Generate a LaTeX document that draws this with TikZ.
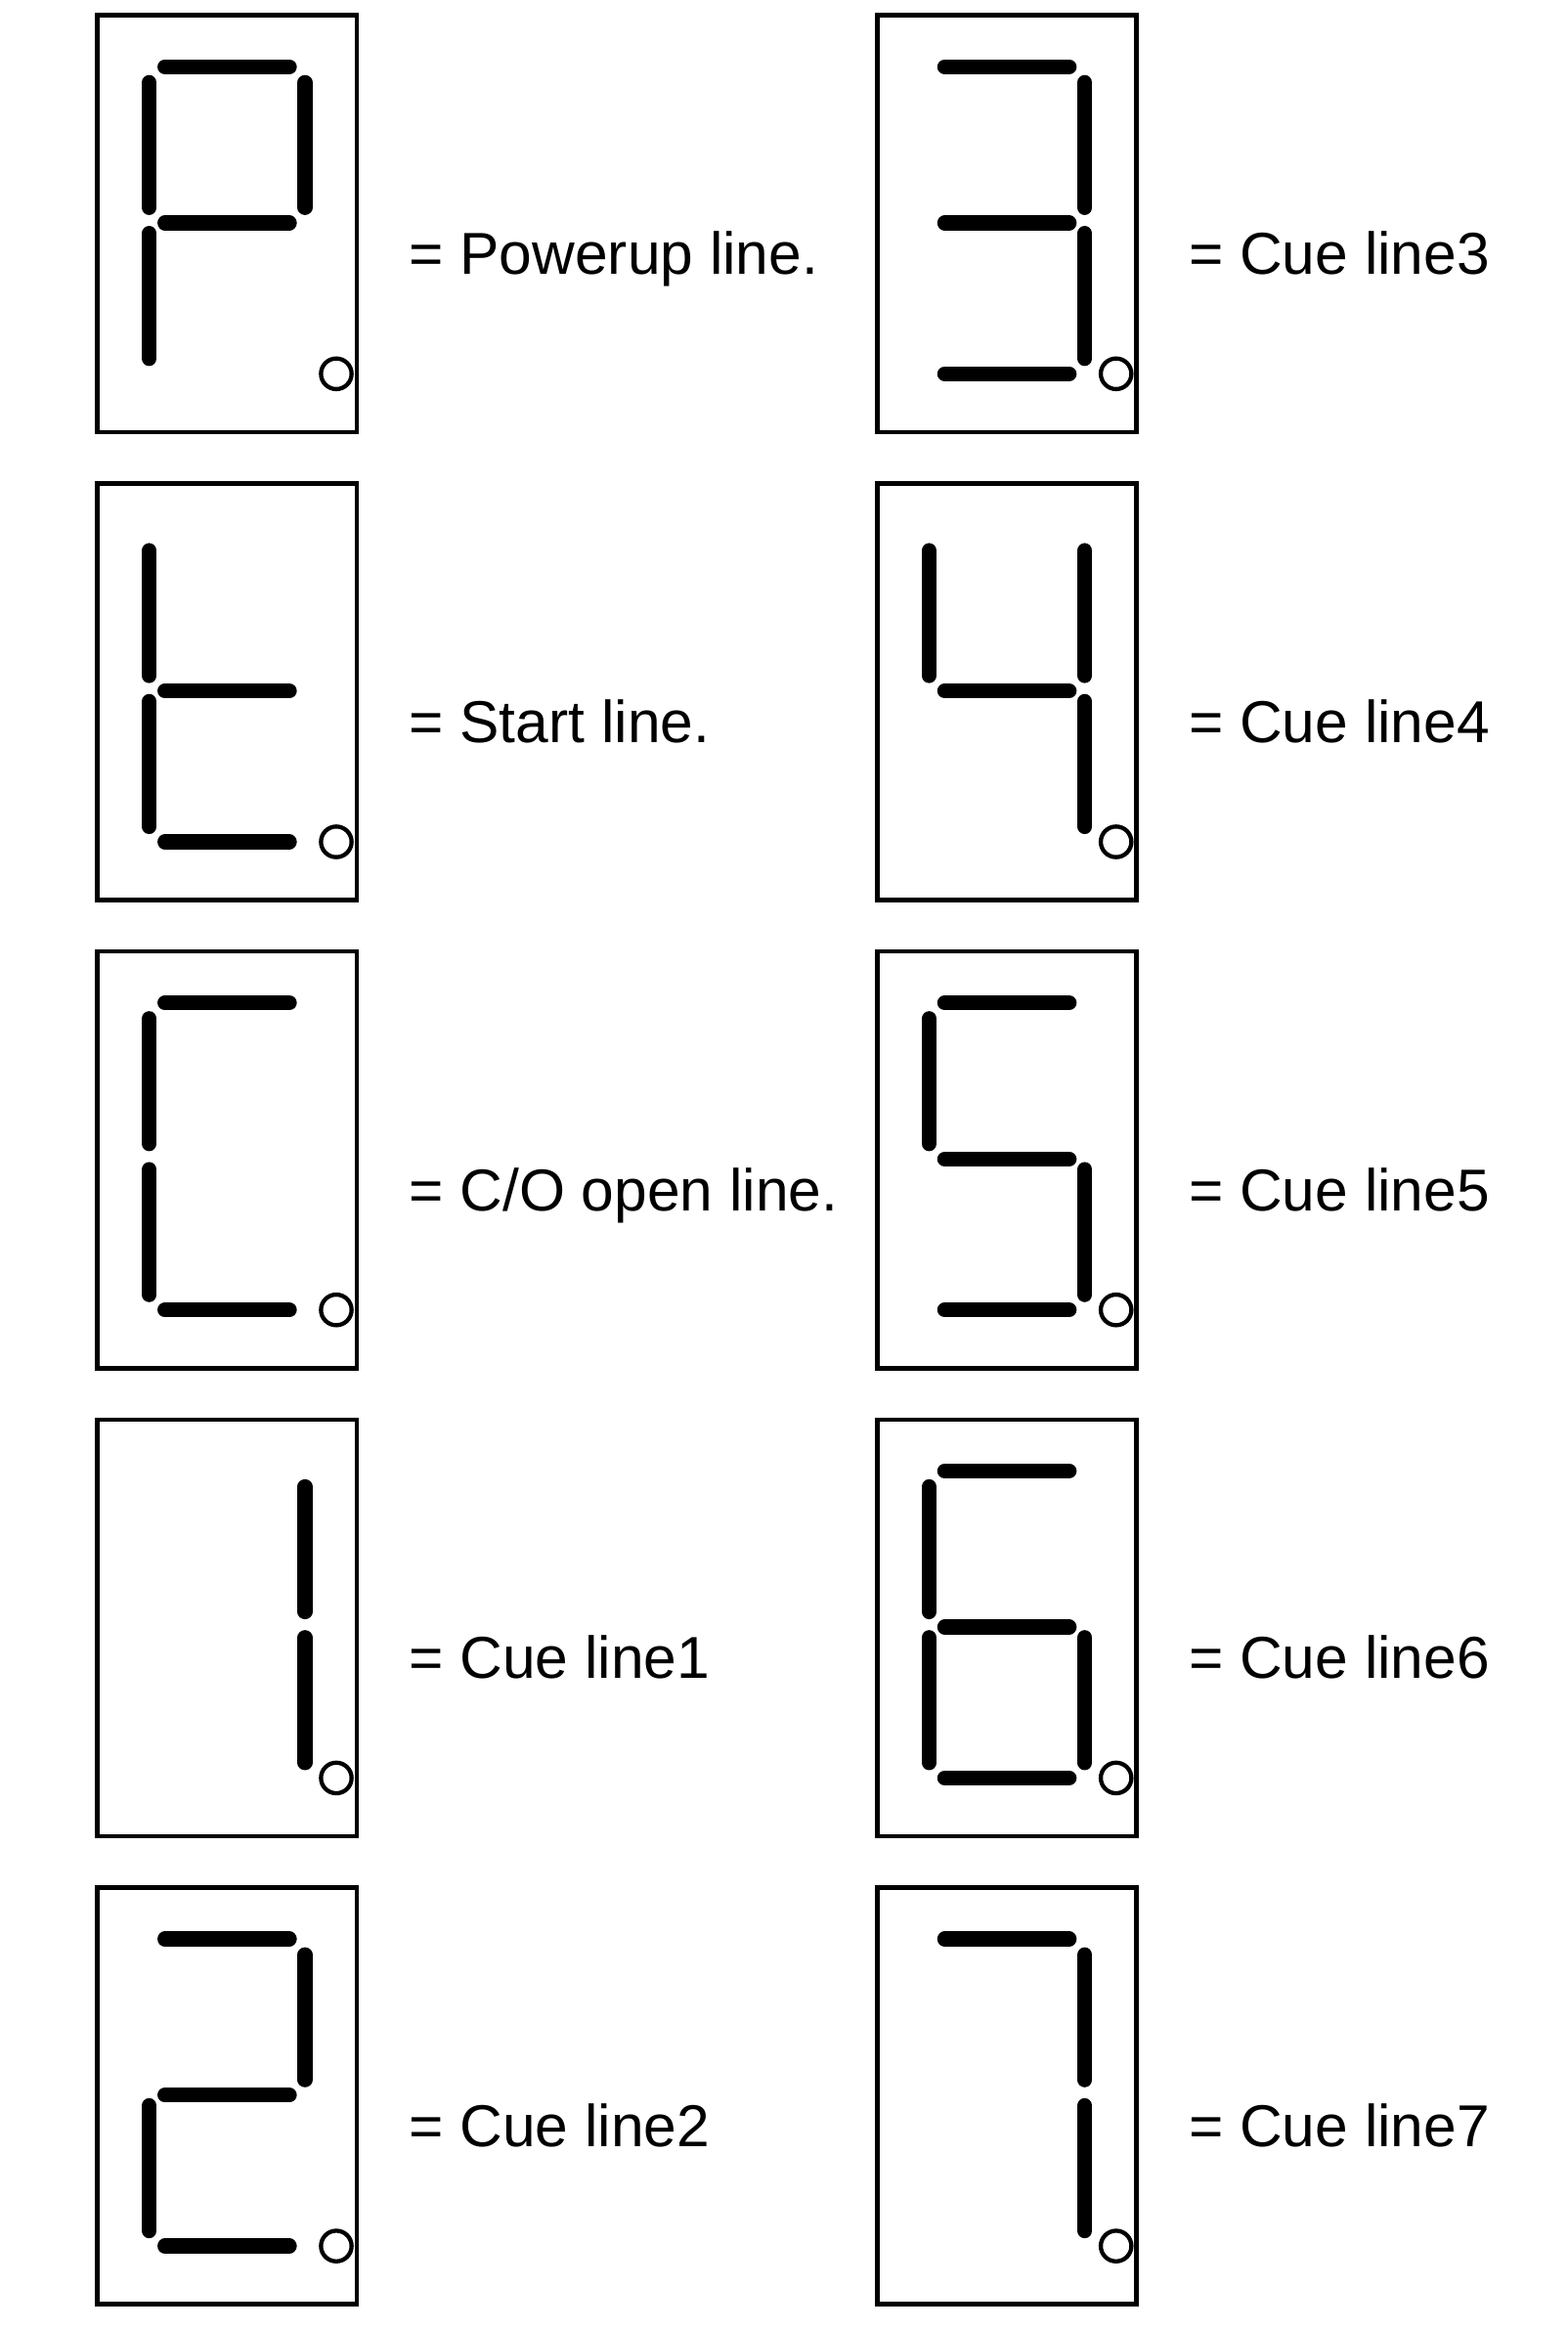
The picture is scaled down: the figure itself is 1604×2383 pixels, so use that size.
\documentclass[tikz,border=0pt]{standalone}
\usepackage{fontspec}
\newfontfamily\capfont{Liberation Sans}
\tikzset{
  panel/.style={draw, line width=1.3pt, minimum width=2.652cm, minimum height=4.26cm,
                inner sep=0pt, outer sep=0pt, anchor=north west},
  seg/.style={line width=4.35pt, line cap=round},
  dp/.style={circle, draw, line width=1.22pt, minimum size=3.13mm, inner sep=0pt},
  caption/.style={anchor=base west, inner sep=0pt, font=\capfont\fontsize{17.2}{20}\selectfont},
}
% one display: name, top left corner, lit segments, caption
\newcommand{\sevenseg}[4]{%
  \begin{scope}[shift={(#2)}]
    \node[panel] (#1) at (0,0) {};
    \foreach \s/\xa/\ya/\xb/\yb in {a/69.2/52.6/196.5/52.6, b/212.5/68.7/212.5/196.6,
        c/212.5/223/212.5/351, d/69.2/366.6/196.5/366.6, e/53.2/223/53.2/351,
        f/53.2/68.7/53.2/196.6, g/69.2/212.3/196.5/212.3}{
      \coordinate (#1\s1) at (\xa,\ya);
      \coordinate (#1\s2) at (\xb,\yb);
    }
    \foreach \s in {#3}
      \draw[seg] (#1\s1) -- (#1\s2);
    \node[dp] (#1dp) at (244.5,366.6) {};
    \node[caption] (#1txt) at (318.3,265) {#4};
  \end{scope}}

\begin{document}
\begin{tikzpicture}[x=0.01cm, y=-0.01cm]
    \useasboundingbox (0,0) rectangle (1604,2383);
    % left column
    \sevenseg{dP}{99.5,15.7}{a,b,f,g,e}{= Powerup line.}
    \sevenseg{dt}{99.5,494.4}{f,e,g,d}{= Start line.}
    \sevenseg{dC}{99.5,973.1}{a,f,e,d}{= C/O open line.}
    \sevenseg{d1}{99.5,1451.8}{b,c}{= Cue line1}
    \sevenseg{d2}{99.5,1930.5}{a,b,g,e,d}{= Cue line2}
    % right column
    \sevenseg{d3}{897.2,15.7}{a,b,g,c,d}{= Cue line3}
    \sevenseg{d4}{897.2,494.4}{f,g,b,c}{= Cue line4}
    \sevenseg{d5}{897.2,973.1}{a,f,g,c,d}{= Cue line5}
    \sevenseg{d6}{897.2,1451.8}{a,f,g,e,d,c}{= Cue line6}
    \sevenseg{d7}{897.2,1930.5}{a,b,c}{= Cue line7}
\end{tikzpicture}
\end{document}
